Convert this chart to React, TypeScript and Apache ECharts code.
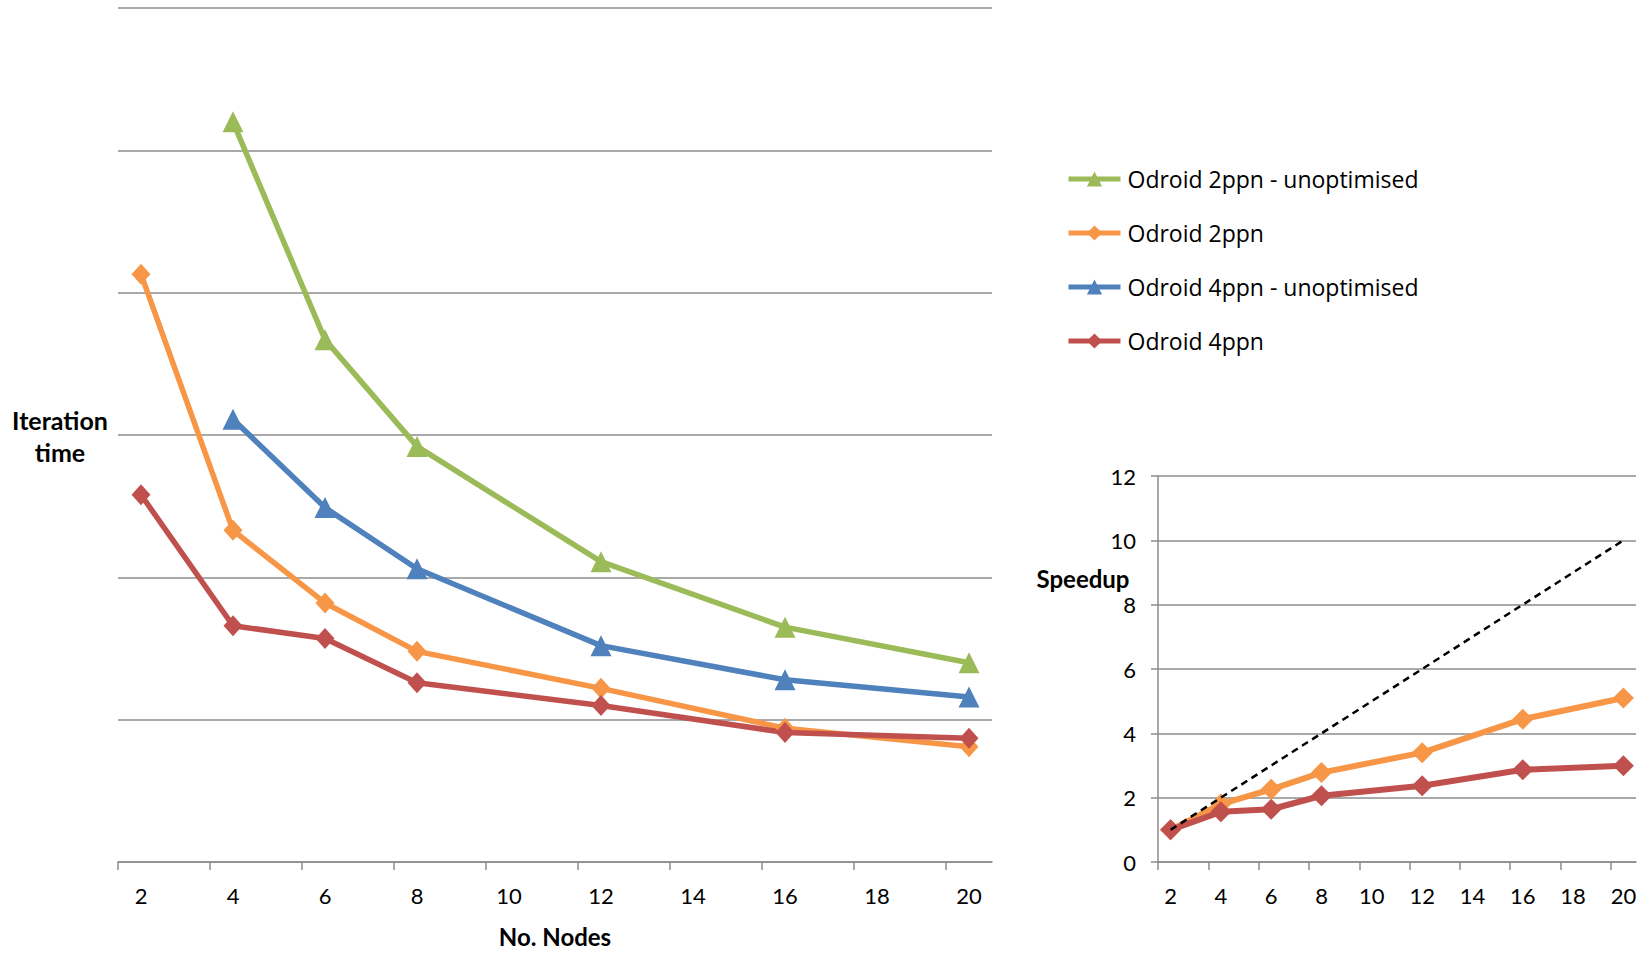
import React, { useEffect, useRef } from "react";
import * as echarts from "echarts";

// ---- data ----
const nodesAll = [2, 4, 6, 8, 12, 16, 20];
const nodesUnopt = [4, 6, 8, 12, 16, 20];

// Iteration time (arbitrary units, 1 unit = one gridline)
const time2ppnUnopt = [5.2, 3.67, 2.92, 2.11, 1.65, 1.4];
const time2ppn = [4.13, 2.33, 1.82, 1.48, 1.22, 0.94, 0.81];
const time4ppnUnopt = [3.11, 2.49, 2.06, 1.52, 1.28, 1.16];
const time4ppn = [2.58, 1.66, 1.57, 1.26, 1.1, 0.91, 0.87];

// Speedup
const speedup2ppn = [1.0, 1.8, 2.26, 2.78, 3.4, 4.44, 5.1];
const speedup4ppn = [1.0, 1.56, 1.64, 2.06, 2.37, 2.87, 2.99];
const speedupIdeal = [1, 2, 3, 4, 6, 8, 10];

const xLabelValues = [2, 4, 6, 8, 10, 12, 14, 16, 18, 20];
const xTickValues = [1.5, 3.5, 5.5, 7.5, 9.5, 11.5, 13.5, 15.5, 17.5, 19.5];

const seriesNames = [
  "Odroid 2ppn - unoptimised",
  "Odroid 2ppn",
  "Odroid 4ppn - unoptimised",
  "Odroid 4ppn",
];

const GREEN = "#9BBB59";
const ORANGE = "#F79646";
const BLUE = "#4F81BD";
const RED = "#C0504D";
const GRID_GRAY = "#8C8C8C";
const FONT = "Lato";
const LEGEND_FONT = "Open Sans";

const pair = (xs: number[], ys: number[]) => xs.map((x, i) => [x, ys[i]]);

export default function App() {
  const ref = useRef<HTMLDivElement>(null);

  useEffect(() => {
    if (!ref.current) return;
    const chart = echarts.init(ref.current, undefined, { renderer: "svg" });

    const xAxisBase = (gridIndex: number, withName: boolean) => ({
      gridIndex,
      type: "value",
      min: 1.5,
      max: 20.5,
      name: withName ? "No. Nodes" : "",
      nameLocation: "middle",
      nameGap: 62,
      nameTextStyle: { fontFamily: FONT, fontWeight: "bold", fontSize: 24, color: "#000" },
      axisLine: { show: true, lineStyle: { color: GRID_GRAY, width: 1.5 } },
      axisTick: {
        show: true,
        length: 8,
        customValues: xTickValues,
        lineStyle: { color: GRID_GRAY, width: 1.5 },
      },
      axisLabel: {
        customValues: xLabelValues,
        fontFamily: FONT,
        fontSize: 22,
        color: "#000",
        margin: 22,
      },
      splitLine: { show: false },
    });

    const mainLine = (name: string, color: string, symbol: string, size: any, xs: number[], ys: number[]) => ({
      name,
      type: "line",
      xAxisIndex: 0,
      yAxisIndex: 0,
      data: pair(xs, ys),
      symbol,
      symbolSize: size,
      showSymbol: true,
      lineStyle: { color, width: 5.5 },
      itemStyle: { color },
    });

    const option = {
      animation: false,
      backgroundColor: "#fff",
      textStyle: { fontFamily: FONT },
      grid: [
        { left: 118, top: 8, width: 874, height: 854 },
        { left: 1158, top: 476, width: 478, height: 386 },
      ],
      legend: {
        data: seriesNames,
        orient: "vertical",
        left: 1066,
        top: 167,
        padding: 0,
        itemWidth: 52,
        itemHeight: 19,
        itemGap: 30,
        lineStyle: { width: 5 },
        textStyle: {
          fontFamily: LEGEND_FONT,
          fontSize: 23,
          color: "#000",
          lineHeight: 24,
          padding: [0, 0, 0, 2],
        },
      },
      xAxis: [xAxisBase(0, true), xAxisBase(1, false)],
      yAxis: [
        {
          gridIndex: 0,
          type: "value",
          min: 0,
          max: 6,
          interval: 1,
          axisLabel: { show: false },
          axisLine: { show: false },
          axisTick: { show: false },
          splitLine: { show: true, lineStyle: { color: GRID_GRAY, width: 1.5 } },
        },
        {
          gridIndex: 1,
          type: "value",
          min: 0,
          max: 12,
          interval: 2,
          axisLabel: { fontFamily: FONT, fontSize: 22, color: "#000", margin: 22 },
          axisLine: { show: true, lineStyle: { color: GRID_GRAY, width: 1.5 } },
          axisTick: { show: true, length: 7, lineStyle: { color: GRID_GRAY, width: 1.5 } },
          splitLine: { show: true, lineStyle: { color: GRID_GRAY, width: 1.5 } },
        },
      ],
      graphic: [
        {
          type: "text",
          x: 60,
          y: 404,
          style: {
            text: "Iteration\ntime",
            fontFamily: FONT,
            fontWeight: "bold",
            fontSize: 25,
            lineHeight: 32,
            fill: "#000",
            align: "center",
            verticalAlign: "top",
          },
        },
        {
          type: "text",
          x: 1083,
          y: 578,
          style: {
            text: "Speedup",
            fontFamily: FONT,
            fontWeight: "bold",
            fontSize: 24,
            fill: "#000",
            align: "center",
            verticalAlign: "middle",
          },
        },
      ],
      series: [
        mainLine(seriesNames[0], GREEN, "triangle", 21, nodesUnopt, time2ppnUnopt),
        mainLine(seriesNames[1], ORANGE, "diamond", [19, 21], nodesAll, time2ppn),
        mainLine(seriesNames[2], BLUE, "triangle", 21, nodesUnopt, time4ppnUnopt),
        mainLine(seriesNames[3], RED, "diamond", [19, 21], nodesAll, time4ppn),
        {
          name: "Speedup 2ppn",
          type: "line",
          xAxisIndex: 1,
          yAxisIndex: 1,
          data: pair(nodesAll, speedup2ppn),
          symbol: "diamond",
          symbolSize: [21, 21],
          lineStyle: { color: ORANGE, width: 6 },
          itemStyle: { color: ORANGE },
        },
        {
          name: "Speedup 4ppn",
          type: "line",
          xAxisIndex: 1,
          yAxisIndex: 1,
          data: pair(nodesAll, speedup4ppn),
          symbol: "diamond",
          symbolSize: [21, 21],
          lineStyle: { color: RED, width: 6 },
          itemStyle: { color: RED },
        },
        {
          name: "Ideal speedup",
          type: "line",
          xAxisIndex: 1,
          yAxisIndex: 1,
          data: pair(nodesAll, speedupIdeal),
          symbol: "none",
          lineStyle: { color: "#000", width: 2.5, type: [7, 5] },
          z: 5,
        },
      ],
    };

    chart.setOption(option as any);
    return () => chart.dispose();
  }, []);

  return (
    <div
      ref={ref}
      style={{ position: "fixed", left: 0, top: 0, width: 1647, height: 953, background: "#fff" }}
    />
  );
}
